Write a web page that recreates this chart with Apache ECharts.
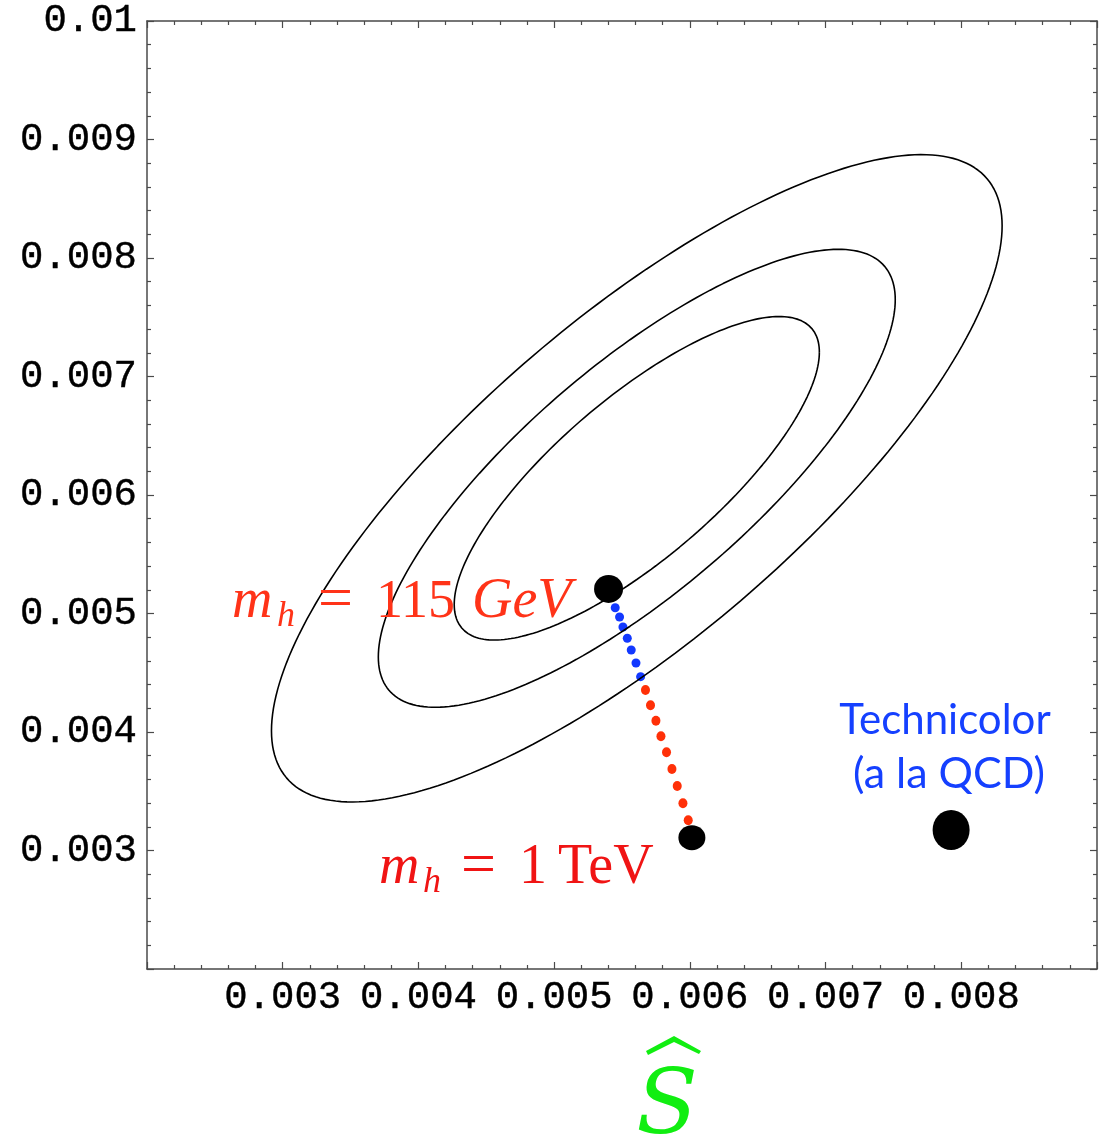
<!DOCTYPE html>
<html>
<head>
<meta charset="utf-8">
<title>S-hat vs T-hat fit</title>
<script src="https://cdn.jsdelivr.net/npm/echarts@6/dist/echarts.min.js"></script>
<style>
  html, body { margin: 0; padding: 0; background: #fff; }
  #chart { width: 1102px; height: 1134px; }
</style>
</head>
<body>
<div id="chart"></div>
<script>
// Axis ranges and tick spacing
const xRange = [0.002, 0.009];
const yRange = [0.002, 0.010];
const tickStep = 0.001;

// Electroweak fit: central value, one-sigma widths, correlation, and the
// delta-chi2 levels of the three contours (68%, 90%, 99% CL)
const fitCenter = [0.005609, 0.006141];
const fitSigma = [0.000887, 0.000900];
const fitRho = 0.78;
const chi2Levels = [2.30, 4.61, 9.21];

// Standard Model Higgs trajectory, m_h from 115 GeV upward
const higgsLight = [
  [0.005450, 0.005049], [0.005482, 0.004970], [0.005507, 0.004886],
  [0.005539, 0.004791], [0.005568, 0.004692], [0.005603, 0.004582],
  [0.005637, 0.004467]
];
const higgsHeavy = [
  [0.005673, 0.004354], [0.005710, 0.004225], [0.005750, 0.004095],
  [0.005787, 0.003964], [0.005828, 0.003829], [0.005868, 0.003688],
  [0.005907, 0.003544], [0.005949, 0.003398], [0.005988, 0.003255]
];
// End points: m_h = 115 GeV and m_h = 1 TeV
const higgsEnds = [[0.005401, 0.005207], [0.006015, 0.003108]];
// QCD-like technicolor estimate
const technicolor = [[0.007925, 0.003173]];

// Contour of the bivariate Gaussian fit at a given delta-chi2
function contour(level) {
  const k = Math.sqrt(level);
  const pts = [];
  const n = 240;
  const s = Math.sqrt(1 - fitRho * fitRho);
  for (let i = 0; i <= n; i++) {
    const t = (2 * Math.PI * i) / n;
    const c = Math.cos(t), d = Math.sin(t);
    pts.push([
      fitCenter[0] + k * fitSigma[0] * c,
      fitCenter[1] + k * fitSigma[1] * (fitRho * c + s * d)
    ]);
  }
  return pts;
}

const frameColor = '#4a4a4a';
const tickFmt = v => String(+v.toFixed(4));

function frameAxis(extra) {
  return Object.assign({
    type: 'value',
    interval: tickStep,
    axisLine: { show: true, onZero: false, lineStyle: { color: frameColor, width: 1.5 } },
    axisTick: { show: true, inside: true, length: 7, lineStyle: { color: frameColor, width: 1.2 } },
    minorTick: { show: true, splitNumber: 5, length: 4, lineStyle: { color: frameColor, width: 1.2 } },
    splitLine: { show: false },
    minorSplitLine: { show: false },
    axisLabel: { show: false }
  }, extra);
}

const tickLabelStyle = {
  fontFamily: '"Liberation Mono", "Courier New", monospace',
  fontSize: 39,
  color: '#000',
  textBorderColor: '#000',
  textBorderWidth: 0.4
};

// Math label pieces drawn on a common baseline
const serif = '"Liberation Serif", "Times New Roman", serif';
function piece(text, x, baseline, size, italic, color) {
  return {
    type: 'text',
    z: 100,
    style: {
      text: text,
      x: x,
      y: baseline - 0.34 * size,
      fontFamily: serif,
      fontSize: size,
      fontStyle: italic ? 'italic' : 'normal',
      fill: color,
      align: 'left',
      verticalAlign: 'middle'
    }
  };
}

const red115 = '#ff3318';
const red1T = '#f01414';

const chart = echarts.init(document.getElementById('chart'), null, { renderer: 'canvas' });
chart.setOption({
  animation: false,
  backgroundColor: '#ffffff',
  grid: { left: 147, right: 5, top: 21, bottom: 165, containLabel: false },
  xAxis: [
    frameAxis({
      min: xRange[0], max: xRange[1], position: 'bottom',
      axisLabel: Object.assign({
        show: true, margin: 9, showMinLabel: false, showMaxLabel: false,
        formatter: tickFmt
      }, tickLabelStyle)
    }),
    frameAxis({ min: xRange[0], max: xRange[1], position: 'top' })
  ],
  yAxis: [
    frameAxis({
      min: yRange[0], max: yRange[1], position: 'left',
      axisLabel: Object.assign({
        show: true, margin: 10, showMinLabel: false, showMaxLabel: true,
        formatter: tickFmt
      }, tickLabelStyle)
    }),
    frameAxis({ min: yRange[0], max: yRange[1], position: 'right' })
  ],
  series: chi2Levels.map(level => ({
    type: 'line',
    data: contour(level),
    showSymbol: false,
    smooth: false,
    lineStyle: { color: '#000', width: 1.6 },
    silent: true
  })).concat([
    {
      type: 'scatter',
      data: higgsLight,
      symbol: 'circle',
      symbolSize: 9,
      itemStyle: { color: '#1238ff', opacity: 1 }
    },
    {
      type: 'scatter',
      data: higgsHeavy,
      symbol: 'circle',
      symbolSize: [9, 10],
      itemStyle: { color: '#ff3008', opacity: 1 }
    },
    {
      type: 'scatter',
      data: higgsEnds,
      symbol: 'circle',
      symbolSize: function (v, p) { return p.dataIndex === 0 ? [29, 28] : [27, 25]; },
      itemStyle: { color: '#000', opacity: 1 },
      z: 5
    },
    {
      type: 'scatter',
      data: technicolor,
      symbol: 'circle',
      symbolSize: [37, 40],
      itemStyle: { color: '#000', opacity: 1 },
      z: 5
    }
  ]),
  graphic: [
    // m_h = 115 GeV
    piece('m', 232, 621, 56, true, red115),
    piece('h', 277, 629, 36, true, red115),
    piece('=', 318, 623, 62, false, red115),
    piece('115', 376, 621, 54, false, red115),
    piece('GeV', 472, 621, 56, true, red115),
    // m_h = 1 TeV
    piece('m', 379, 887, 56, true, red1T),
    piece('h', 423, 895, 36, true, red1T),
    piece('=', 461, 889, 62, false, red1T),
    piece('1', 519, 887, 56, false, red1T),
    piece('TeV', 558, 887, 56, false, red1T),
    // Technicolor annotation
    {
      type: 'text', z: 100,
      style: {
        text: 'Technicolor', x: 945, y: 737 - 0.39 * 42,
        fontFamily: 'Lato, "Noto Sans", sans-serif', fontSize: 42,
        fill: '#1540ff', align: 'center', verticalAlign: 'middle'
      }
    },
    {
      type: 'text', z: 100,
      style: {
        text: '(a la QCD)', x: 949, y: 791 - 0.39 * 43,
        fontFamily: 'Lato, "Noto Sans", sans-serif', fontSize: 43,
        fill: '#1540ff', align: 'center', verticalAlign: 'middle'
      }
    },
    // Axis title: S with a wide hat
    {
      type: 'text', z: 100,
      style: {
        text: 'S', x: 667, y: 1140 - 0.34 * 90,
        fontFamily: '"DejaVu Serif", serif', fontSize: 90, fontStyle: 'italic',
        fill: '#11ee11', align: 'center', verticalAlign: 'middle'
      }
    },
    {
      type: 'polygon', z: 100,
      shape: { points: [[646, 1051], [674, 1036], [701, 1051], [699, 1054], [674, 1042], [648, 1055]] },
      style: { fill: '#11ee11' }
    }
  ]
});
</script>
</body>
</html>
